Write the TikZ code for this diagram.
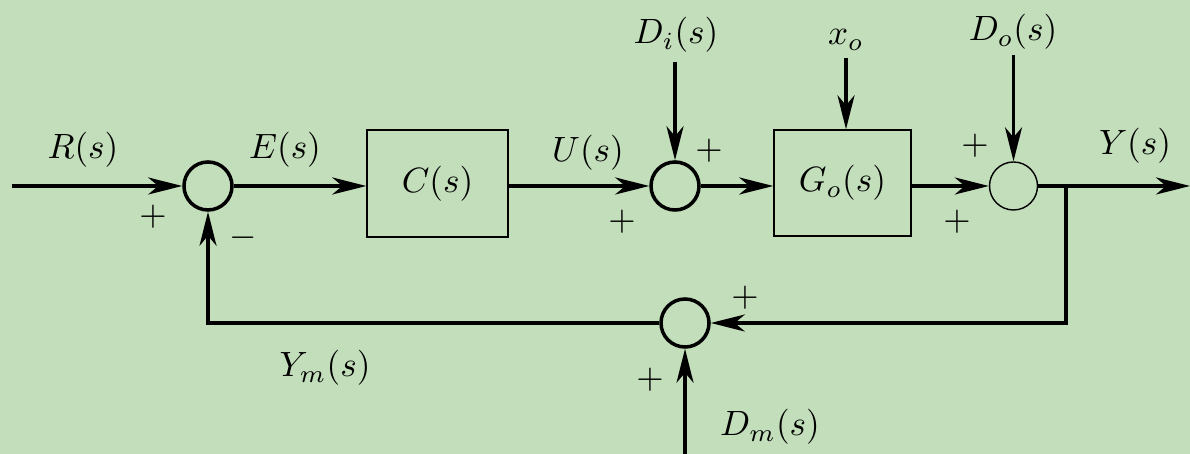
\documentclass[tikz,border=0pt]{standalone}
\usetikzlibrary{arrows.meta}
\definecolor{bgcol}{RGB}{195,222,186}
\tikzset{
  sum/.style={draw,circle,minimum size=4.8mm,inner sep=0pt},
  blk/.style={draw,thin,inner sep=0pt},
  sig/.style={line width=1pt,-{Stealth[length=3.4mm,width=1.7mm,inset=1mm]}},
  wire/.style={line width=1pt}
}
\begin{document}
\begin{tikzpicture}
\fill[bgcol](0,0) rectangle (11.9,4.54);
\useasboundingbox (0,0) rectangle (11.9,4.54);
% blocks and junctions
\node[sum,line width=1pt] (s1) at (2.08,2.68) {};
\node[blk,minimum width=14.1mm,minimum height=10.7mm] (C) at (4.375,2.705) {$C(s)$};
\node[sum,line width=1pt] (s2) at (6.75,2.68) {};
\node[blk,minimum width=13.7mm,minimum height=10.6mm] (G) at (8.425,2.71) {$G_o(s)$};
\node[sum,thin] (s3) at (10.135,2.68) {};
\node[sum,line width=1pt] (s4) at (6.85,1.31) {};
\coordinate (in) at (0.12,2.68);
\coordinate (out) at (11.9,2.68);
\coordinate (br) at (10.66,2.68);
\coordinate (Di) at (6.75,3.92);
\coordinate (xo) at (8.46,3.96);
\coordinate (Do) at (10.135,3.99);
\coordinate (Dm) at (6.85,0);
% forward path
\draw[sig](in)--(s1);
\draw[sig](s1)--(s1-|C.west);
\draw[sig](s2-|C.east)--(s2);
\draw[sig](s2)--(s2-|G.west);
\draw[sig](s3-|G.east)--(s3);
\draw[sig](s3)--(out);
\draw[sig](Di)--(s2);
\draw[sig](xo)--(xo|-G.north);
\draw[sig](Do)--(s3);
% feedback
\draw[sig](br)--(br|-s4)--(s4);
\draw[sig](s4)-|(s1);
\draw[sig](Dm)--(s4);
% labels
\node (lR) at (0.83,3.04){$R(s)$};
\node (lE) at (2.85,3.04){$E(s)$};
\node (lU) at (5.88,3.01){$U(s)$};
\node (lY) at (11.35,3.08){$Y(s)$};
\node (lYm) at (3.25,0.86){$Y_m(s)$};
\node (lDi) at (6.76,4.19){$D_i(s)$};
\node (lxo) at (8.46,4.14){$x_o$};
\node (lDo) at (10.13,4.22){$D_o(s)$};
\node (lDm) at (7.7,0.27){$D_m(s)$};
\node (p1) at (1.53,2.37){$+$};
\node (m1) at (2.43,2.16){$-$};
\node (p2) at (7.09,3.03){$+$};
\node (p3) at (6.22,2.32){$+$};
\node (p4) at (9.75,3.08){$+$};
\node (p5) at (9.57,2.32){$+$};
\node (p6) at (7.45,1.56){$+$};
\node (p7) at (6.5,0.74){$+$};
\end{tikzpicture}
\end{document}
